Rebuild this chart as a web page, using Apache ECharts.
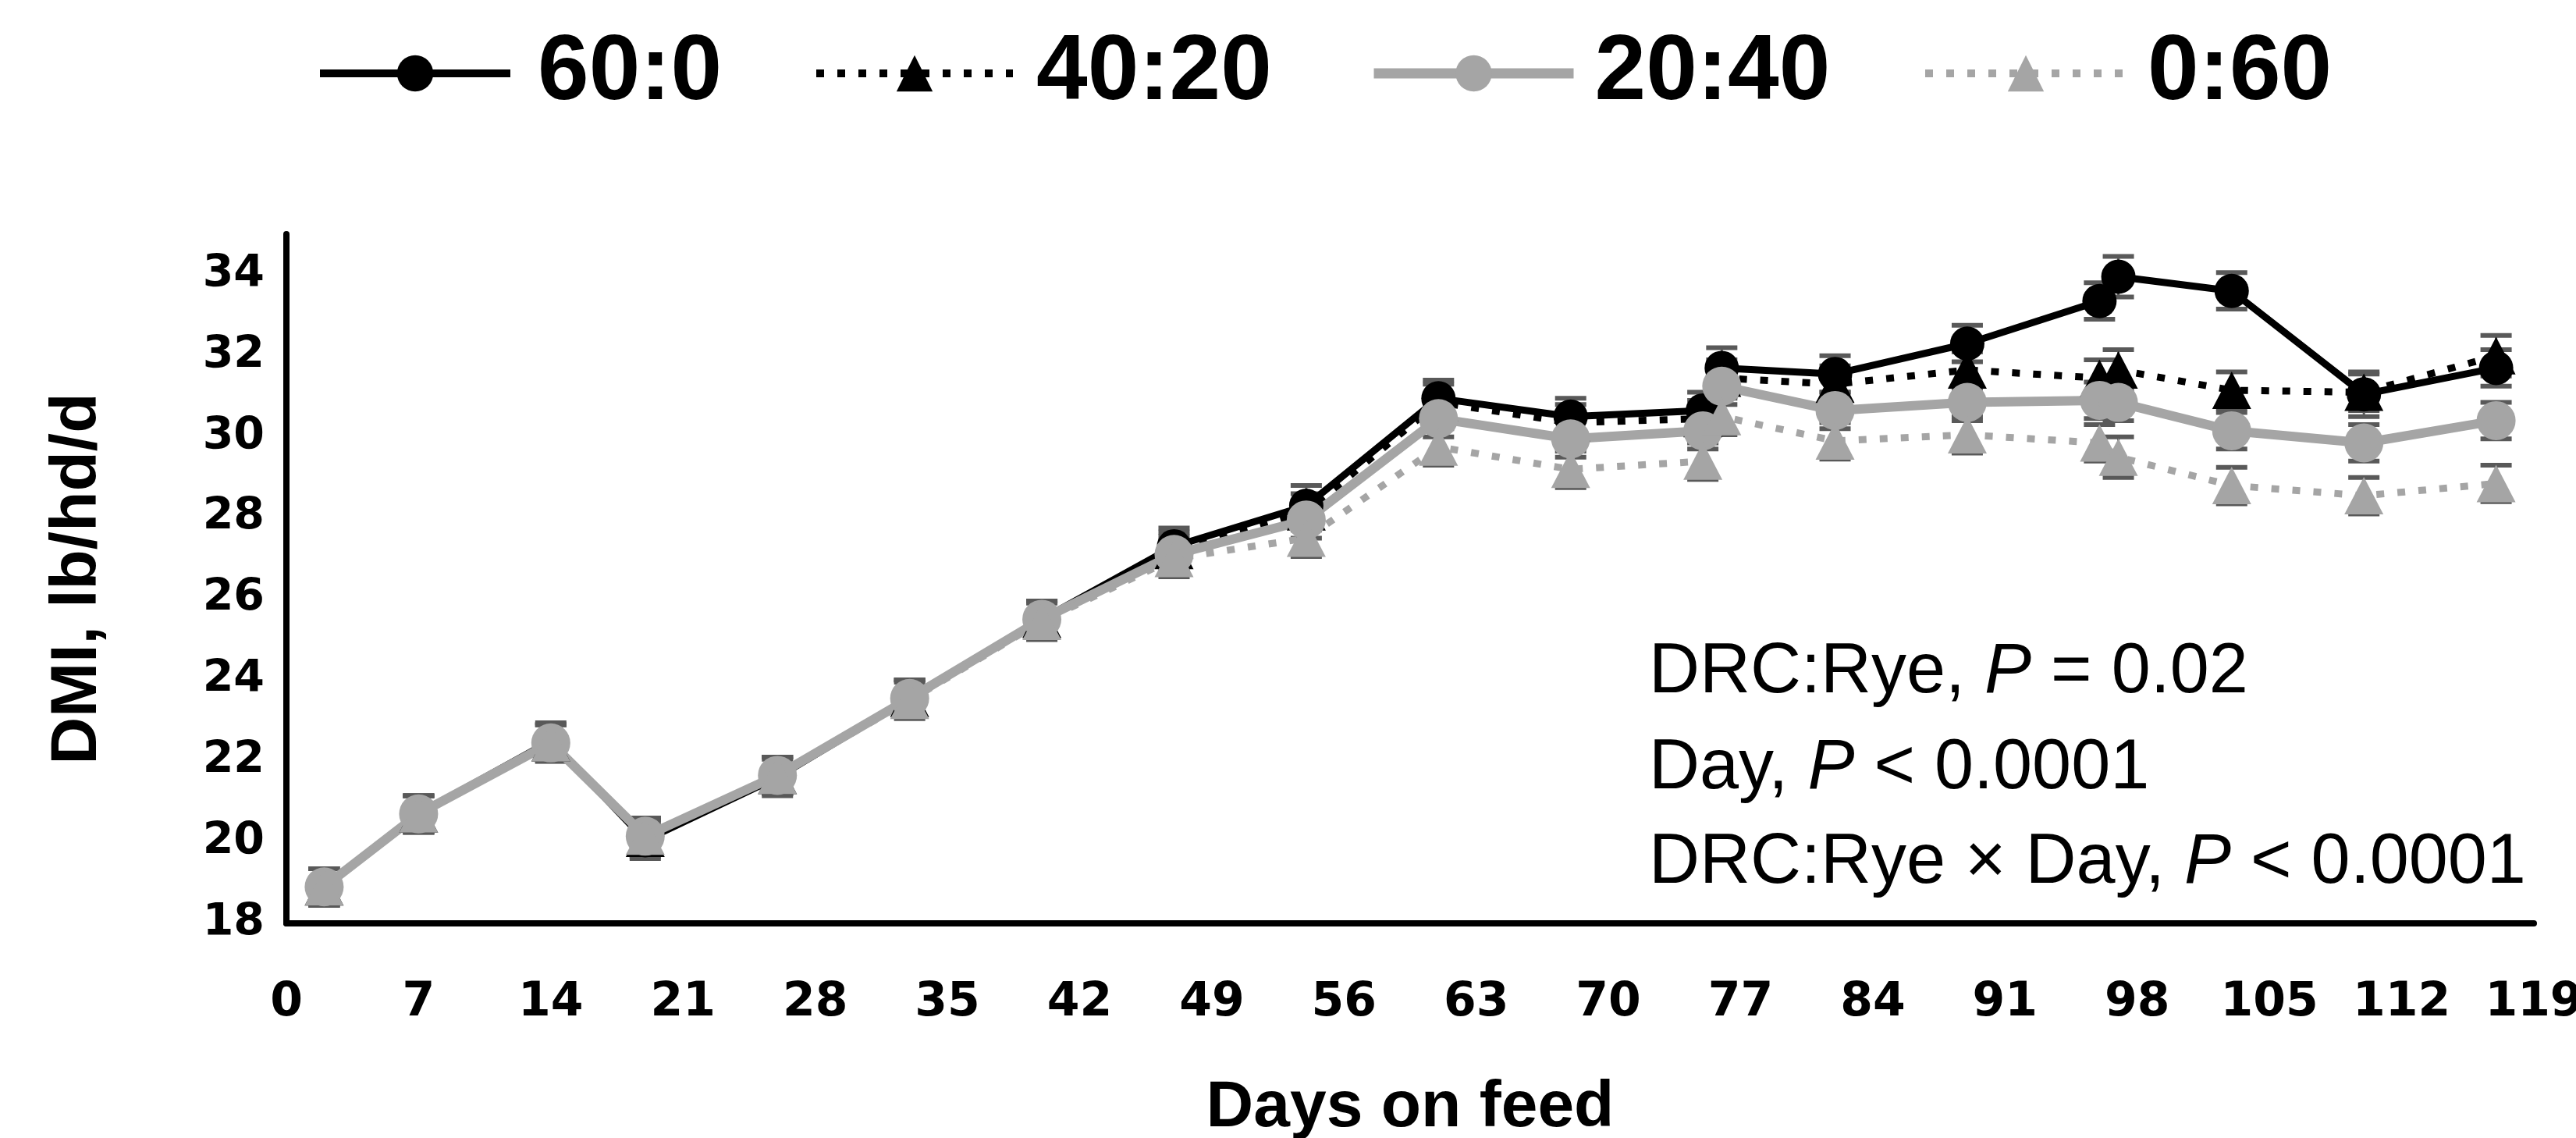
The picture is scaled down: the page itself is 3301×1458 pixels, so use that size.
<!DOCTYPE html>
<html>
<head>
<meta charset="utf-8">
<script src="https://cdn.jsdelivr.net/npm/echarts@6/dist/echarts.min.js"></script>
<style>
html,body{margin:0;padding:0;background:#fff;}
#c{width:3301px;height:1458px;}
</style>
</head>
<body>
<div id="c"></div>
<script>
// ---- data ----
const days = [2, 7, 14, 19, 26, 33, 40, 47, 54, 61, 68, 75, 76, 82, 89, 96, 97, 103, 110, 117];
const seriesNames = ['60:0', '40:20', '20:40', '0:60'];
const dmi_60_0  = [18.9, 20.7, 22.5, 20.05, 21.6, 23.55, 25.5, 27.3, 28.3, 30.95, 30.5, 30.65, 31.7, 31.55, 32.3, 33.35, 33.95, 33.6, 31.05, 31.7];
const dmi_40_20 = [18.9, 20.7, 22.45, 20.1, 21.65, 23.55, 25.5, 27.2, 28.15, 30.85, 30.35, 30.45, 31.45, 31.3, 31.65, 31.45, 31.65, 31.15, 31.1, 32.0];
const dmi_20_40 = [18.9, 20.7, 22.45, 20.15, 21.65, 23.55, 25.5, 27.1, 27.95, 30.45, 29.95, 30.15, 31.25, 30.65, 30.85, 30.9, 30.85, 30.15, 29.85, 30.4];
const dmi_0_60  = [18.9, 20.7, 22.45, 20.15, 21.65, 23.5, 25.45, 27.0, 27.5, 29.75, 29.2, 29.4, 30.5, 29.9, 30.05, 29.85, 29.5, 28.8, 28.55, 28.85];
const se_60_0  = [0.45, 0.45, 0.45, 0.45, 0.45, 0.45, 0.45, 0.45, 0.5, 0.45, 0.45, 0.45, 0.5, 0.45, 0.45, 0.45, 0.5, 0.45, 0.55, 0.45];
const se_40_20 = [0.45, 0.45, 0.45, 0.45, 0.45, 0.45, 0.45, 0.45, 0.45, 0.45, 0.45, 0.45, 0.45, 0.45, 0.45, 0.45, 0.5, 0.45, 0.45, 0.5];
const se_20_40 = [0.45, 0.45, 0.45, 0.45, 0.45, 0.45, 0.45, 0.45, 0.45, 0.45, 0.45, 0.45, 0.45, 0.45, 0.45, 0.45, 0.45, 0.45, 0.45, 0.45];
const se_0_60  = [0.45, 0.45, 0.45, 0.45, 0.45, 0.45, 0.45, 0.45, 0.45, 0.45, 0.45, 0.45, 0.45, 0.45, 0.45, 0.45, 0.5, 0.45, 0.45, 0.45];
const annotationLines = [
  ['DRC:Rye, ', 'P', ' = 0.02'],
  ['Day, ', 'P', ' < 0.0001'],
  ['DRC:Rye \u00d7 Day, ', 'P', ' < 0.0001']
];
const xAxisTitle = 'Days on feed';
const yAxisTitle = 'DMI, lb/hd/d';

// ---- styling ----
const GRAY = '#A5A5A5';
const styles = [
  {color: '#000000', width: 9, dash: 'solid', symbol: 'circle', size: 44},
  {color: '#000000', width: 9, dash: [10, 17], symbol: 'triangle', size: [50, 48]},
  {color: GRAY, width: 12, dash: 'solid', symbol: 'circle', size: 50},
  {color: GRAY, width: 9, dash: [10, 17], symbol: 'triangle', size: [50, 48]}
];
const values = [dmi_60_0, dmi_40_20, dmi_20_40, dmi_0_60];
const ses = [se_60_0, se_40_20, se_20_40, se_0_60];

function errSeries(vals, se) {
  return {
    type: 'custom',
    silent: true,
    renderItem: function (params, api) {
      const x = api.value(0), y = api.value(1), e = api.value(2);
      const t = api.coord([x, y + e]);
      const b = api.coord([x, y - e]);
      const hw = 20;
      const st = {stroke: '#595959', lineWidth: 3};
      const cs = {stroke: '#595959', lineWidth: 6};
      return {
        type: 'group',
        children: [
          {type: 'line', shape: {x1: t[0], y1: t[1], x2: b[0], y2: b[1]}, style: st},
          {type: 'line', shape: {x1: t[0] - hw, y1: t[1], x2: t[0] + hw, y2: t[1]}, style: cs},
          {type: 'line', shape: {x1: b[0] - hw, y1: b[1], x2: b[0] + hw, y2: b[1]}, style: cs}
        ]
      };
    },
    data: days.map((d, i) => [d, vals[i], se[i]]),
    z: 2
  };
}

const series = [];
seriesNames.forEach((name, k) => {
  series.push(errSeries(values[k], ses[k]));
  const s = styles[k];
  series.push({
    name: name,
    type: 'line',
    data: days.map((d, i) => [d, values[k][i]]),
    symbol: s.symbol,
    symbolSize: s.size,
    itemStyle: {color: s.color},
    lineStyle: {color: s.color, width: s.width, type: s.dash, cap: 'butt'},
    z: 2,
    emphasis: {disabled: true}
  });
});

const legendLefts = [400, 1036, 1749, 2457];
const legendWidths = [244, 252, 256, 258];
const legendPads = [30, 25, 22, 22];
const legends = seriesNames.map((name, k) => ({
  data: [name],
  left: legendLefts[k],
  top: 30,
  orient: 'horizontal',
  itemWidth: legendWidths[k],
  itemHeight: 58,
  selectedMode: false,
  lineStyle: {width: k === 2 ? 13 : 10, type: styles[k].dash},
  textStyle: {
    fontFamily: 'Liberation Sans',
    fontWeight: 'bold',
    fontSize: 118,
    color: '#000',
    padding: [0, 0, 0, legendPads[k]]
  }
}));

const fontMain = {fontFamily: 'Liberation Sans', fontWeight: 'normal', fontSize: 90, color: '#262626'};
const graphics = annotationLines.map((parts, i) => ({
  type: 'text',
  x: 2113,
  y: [862, 985, 1106][i],
  silent: true,
  style: {
    text: '{n|' + parts[0] + '}{i|' + parts[1] + '}{n|' + parts[2] + '}',
    verticalAlign: 'middle',
    align: 'left',
    rich: {
      n: Object.assign({}, fontMain),
      i: Object.assign({}, fontMain, {fontStyle: 'italic'})
    }
  }
}));

const chart = echarts.init(document.getElementById('c'), null, {renderer: 'canvas'});
chart.setOption({
  animation: false,
  backgroundColor: '#ffffff',
  legend: legends,
  grid: {left: 367, right: 54, top: 300, bottom: 275, containLabel: false, outerBoundsMode: 'none'},
  xAxis: {
    type: 'value',
    min: 0, max: 119, interval: 7,
    name: xAxisTitle,
    nameLocation: 'middle',
    nameGap: 195,
    nameTextStyle: {fontFamily: 'Liberation Sans', fontWeight: 'bold', fontSize: 84, color: '#000'},
    axisLine: {show: true, onZero: false, lineStyle: {color: '#000', width: 8}},
    axisTick: {show: false},
    splitLine: {show: false},
    axisLabel: {margin: 72, fontFamily: 'DejaVu Sans', fontWeight: 'bold', fontSize: 60, color: '#000'}
  },
  yAxis: {
    type: 'value',
    min: 18, max: 35, interval: 2,
    name: yAxisTitle,
    nameLocation: 'middle',
    nameGap: 225,
    nameRotate: 90,
    nameTextStyle: {fontFamily: 'Liberation Sans', fontWeight: 'bold', fontSize: 84, color: '#000'},
    axisLine: {show: true, lineStyle: {color: '#000', width: 8}},
    axisTick: {show: false},
    splitLine: {show: false},
    axisLabel: {margin: 28, showMaxLabel: false, fontFamily: 'DejaVu Sans', fontWeight: 'bold', fontSize: 57, color: '#000'}
  },
  graphic: graphics,
  series: series
});
</script>
</body>
</html>
